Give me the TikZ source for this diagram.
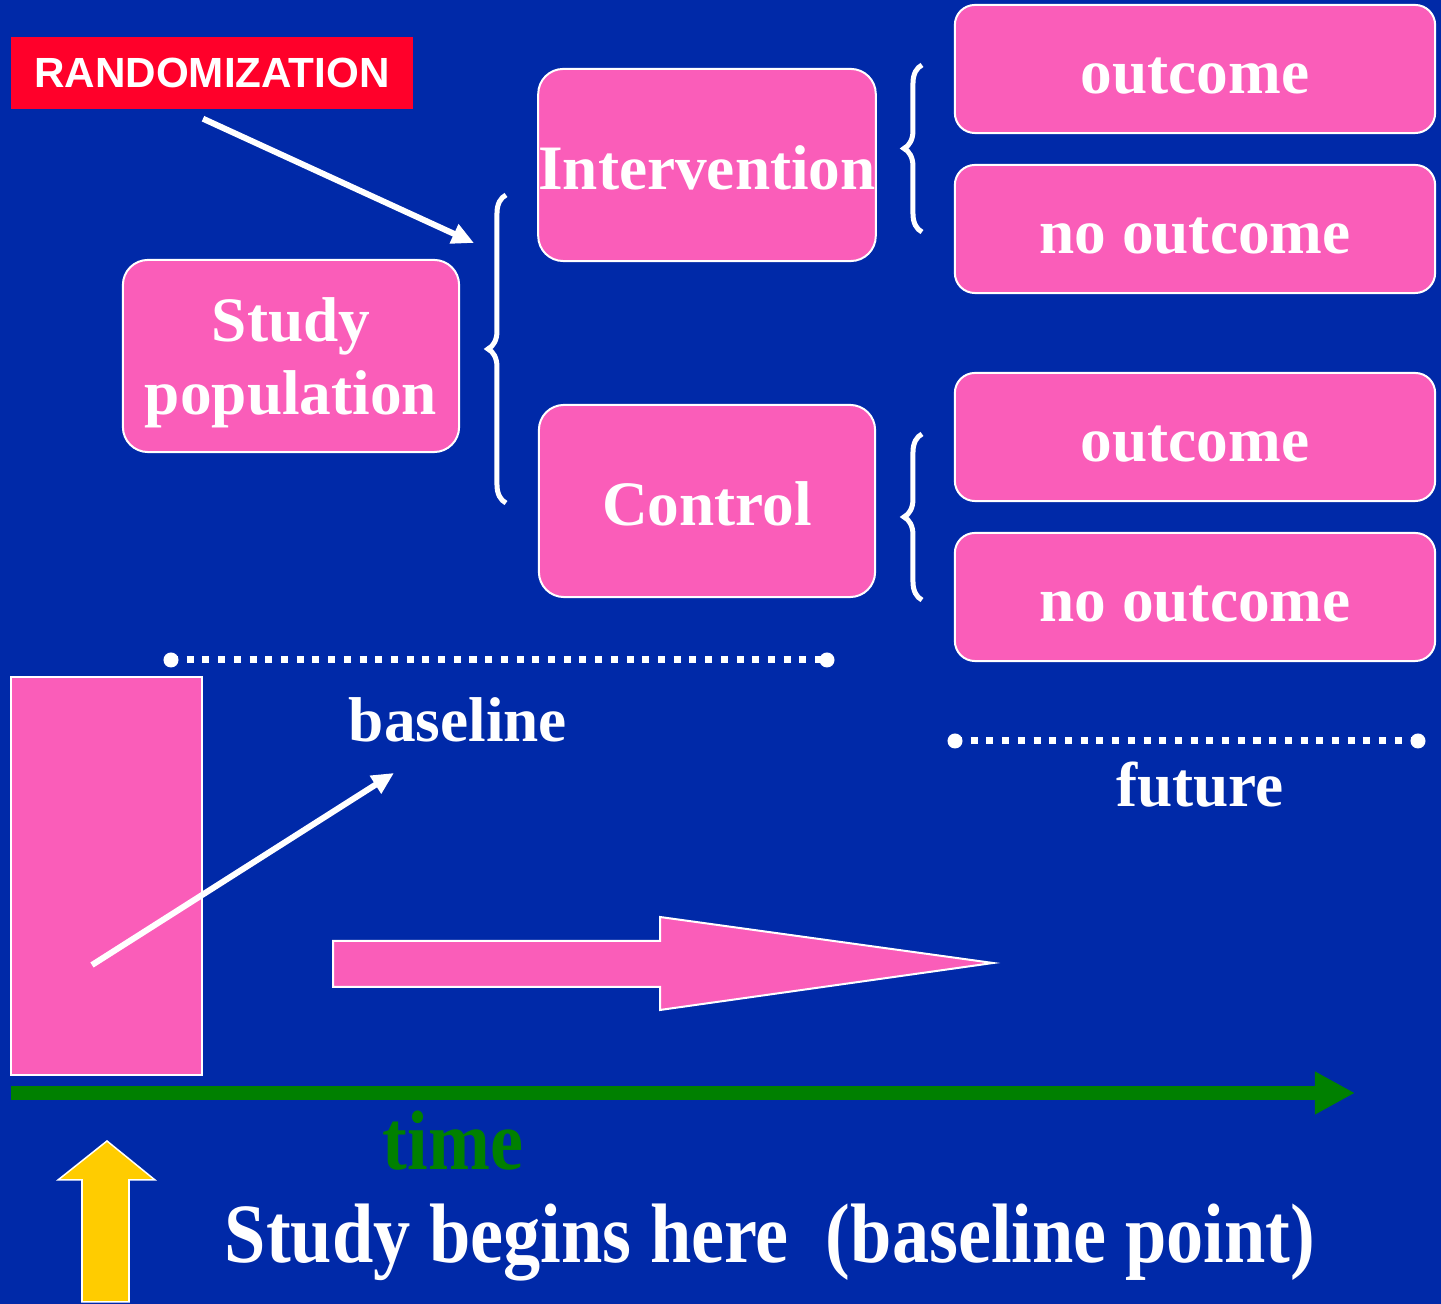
\documentclass[tikz,border=0pt]{standalone}
\usepackage{fontspec}
\setmainfont{Liberation Serif}
\newfontfamily\randfont{Liberation Sans}
\usetikzlibrary{arrows.meta,decorations.pathreplacing}
\definecolor{slideblue}{RGB}{0,41,168}
\definecolor{boxpink}{RGB}{250,93,185}
\definecolor{randred}{RGB}{255,0,42}
\definecolor{timegreen}{RGB}{0,128,0}
\definecolor{startyellow}{RGB}{255,204,0}

\begin{document}
\begin{tikzpicture}[x=0.01cm, y=-0.01cm,
  pinkbox/.style={draw=white, line width=0.02cm, fill=boxpink, rounded corners=0.25cm,
    text=white, font=\fontsize{18}{21}\selectfont\bfseries, align=center, inner sep=0pt},
  armbox/.style={pinkbox, minimum width=3.36cm, minimum height=1.92cm, text height=13.8pt, text depth=0pt},
  endbox/.style={pinkbox, rounded corners=0.2cm, minimum width=4.8cm, minimum height=1.28cm,
    text height=14.2pt, text depth=0pt},
  whitearrow/.style={white, line width=0.06cm, -{Triangle[length=0.22cm,width=0.2cm]}},
  bracket/.style={white, line width=0.05cm, decorate, decoration={brace, amplitude=0.18cm}},
  dotline/.style={white, line width=0.07cm, dash pattern=on 0.07cm off 0.087cm},
  plaintext/.style={text=white, font=\fontsize{18}{21}\selectfont\bfseries, inner sep=0pt},
  bigtext/.style={font=\fontsize{24}{28}\selectfont\bfseries, inner sep=0pt, xscale=0.88, transform shape},
]
  % background
  \fill[slideblue] (0,0) rectangle (1441,1304);
  \useasboundingbox (0,0) rectangle (1441,1304);

  % randomization
  \node[fill=randred, minimum width=4.02cm, minimum height=0.72cm, inner sep=0pt, text=white,
    font=\randfont\bfseries\fontsize{12}{14}\selectfont] (rand) at (212,73) {RANDOMIZATION};
  \coordinate (randtip) at (474,243);
  \draw[whitearrow] ([xshift=-0.09cm,yshift=-0.09cm]rand.south) -- (randtip);

  % boxes
  \node[pinkbox, minimum width=3.36cm, minimum height=1.92cm, text depth=0pt] (pop) at (291,356) {Study\\population};
  \node[armbox] (interv) at (707,165) {Intervention};
  \node[armbox] (ctrl) at (707,501) {Control};
  \node[endbox] (out1) at (1195,69) {outcome};
  \node[endbox] (noout1) at (1195,229) {no outcome};
  \node[endbox] (out2) at (1195,437) {outcome};
  \node[endbox] (noout2) at (1195,597) {no outcome};

  % braces
  \coordinate (popbot) at (506,503);
  \coordinate (poptop) at (506,195);
  \coordinate (ibot) at (922,232);
  \coordinate (itop) at (922,65);
  \coordinate (cbot) at (922,600);
  \coordinate (ctop) at (922,434);
  \draw[bracket] (popbot) -- (poptop);
  \draw[bracket] (ibot) -- (itop);
  \draw[bracket] (cbot) -- (ctop);

  % baseline and future
  \coordinate (bl1) at (171,660);
  \coordinate (bl2) at (827,660);
  \draw[dotline] (bl1) -- (bl2);
  \fill[white] (bl1) circle (0.075cm) (bl2) circle (0.075cm);
  \node[plaintext] (baselinelbl) at (458,720) {baseline};

  \coordinate (fu1) at (955,741);
  \coordinate (fu2) at (1418,741);
  \draw[dotline] (fu1) -- (fu2);
  \fill[white] (fu1) circle (0.075cm) (fu2) circle (0.075cm);
  \node[plaintext] (futurelbl) at (1200,785) {future};

  % cohort at baseline
  \node[draw=white, line width=0.02cm, fill=boxpink, minimum width=1.91cm, minimum height=3.98cm,
    inner sep=0pt] (cohort) at (106.5,876) {};
  \coordinate (armstart) at (92,965);
  \coordinate (armend) at (394,773);
  \draw[whitearrow] (armstart) -- (armend);

  % follow-up arrow
  \draw[white, line width=0.02cm, fill=boxpink] (333,941) -- (660,941) -- (660,917) -- (993,963)
    -- (660,1010) -- (660,987) -- (333,987) -- cycle;

  % time axis
  \coordinate (tstart) at (11,1093);
  \coordinate (tend) at (1355,1093);
  \draw[timegreen, line width=0.14cm, -{Triangle[length=0.4cm,width=0.4cm]}] (tstart) -- (tend);
  \node[bigtext, text=timegreen] (timelbl) at (453,1141) {time};

  % start marker
  \draw[white, line width=0.015cm, fill=startyellow] (82,1302) -- (82,1180) -- (58,1180) -- (107,1141)
    -- (155,1180) -- (129,1180) -- (129,1302) -- cycle;
  \node[bigtext, text=white] (startlbl) at (770,1243) {Study begins here\ \ (baseline point)};
\end{tikzpicture}
\end{document}
